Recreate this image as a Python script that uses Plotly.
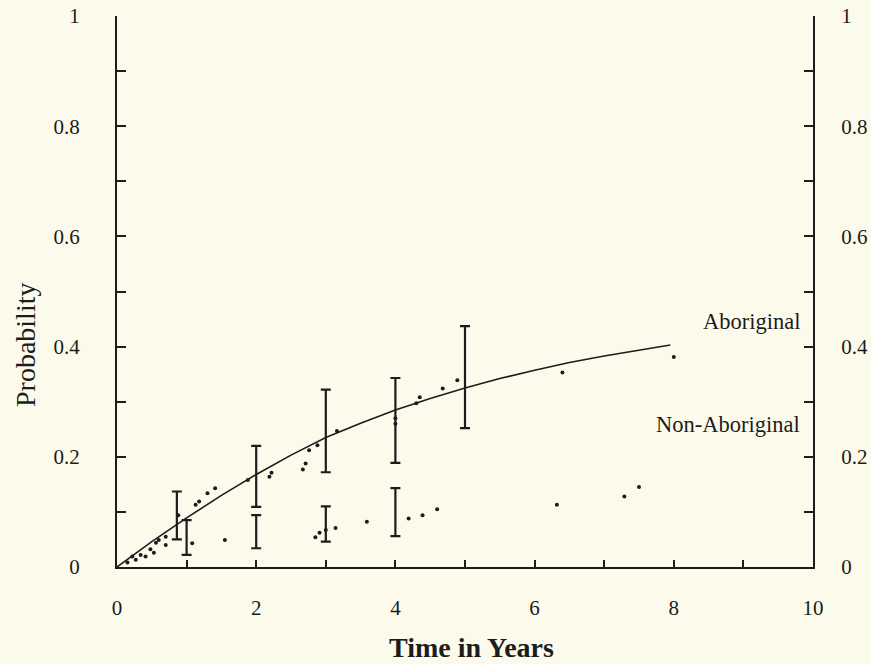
import plotly.graph_objects as go

# Fitted curve (Aboriginal)
curve_x = [0, 0.5, 1, 1.5, 2, 2.5, 3, 3.5, 4, 4.5, 5, 5.5, 6, 6.5, 7, 7.5, 7.95]
curve_y = [0, 0.046, 0.089, 0.13, 0.168, 0.203, 0.235, 0.261, 0.285, 0.306, 0.325, 0.342, 0.357, 0.371, 0.383, 0.393, 0.403]

# Observed points
abo_x = [0.22, 0.34, 0.48, 0.56, 0.60, 0.70, 0.88, 1.13, 1.18, 1.30, 1.41, 1.88, 2.19, 2.22, 2.67, 2.71, 2.76, 2.88, 3.16,
         4.0, 4.0, 4.3, 4.35, 4.68, 4.89, 6.4, 8.0]
abo_y = [0.019, 0.022, 0.032, 0.044, 0.049, 0.055, 0.094, 0.113, 0.119, 0.134, 0.143, 0.158, 0.164, 0.171, 0.177, 0.188,
         0.212, 0.221, 0.247, 0.27, 0.26, 0.297, 0.308, 0.324, 0.339, 0.353, 0.381]
non_x = [0.15, 0.27, 0.41, 0.53, 0.70, 1.08, 1.55, 2.85, 2.91, 3.0, 3.14, 3.59, 4.19, 4.39, 4.6, 6.32, 7.29, 7.5]
non_y = [0.008, 0.013, 0.019, 0.026, 0.040, 0.043, 0.049, 0.054, 0.062, 0.067, 0.071, 0.082, 0.088, 0.094, 0.105,
         0.113, 0.128, 0.145]

# Error bars (low, high)
abo_bar_x = [0.86, 2, 3, 4, 5]
abo_bar_lo = [0.050, 0.109, 0.172, 0.189, 0.252]
abo_bar_hi = [0.137, 0.220, 0.322, 0.343, 0.437]
non_bar_x = [1, 2, 3, 4]
non_bar_lo = [0.022, 0.034, 0.046, 0.056]
non_bar_hi = [0.085, 0.094, 0.110, 0.143]

x_ticks = [0, 2, 4, 6, 8, 10]
y_ticks = [0, 0.2, 0.4, 0.6, 0.8, 1]

INK = "#1c1c1c"
BG = "#fcfbeb"
FONT = "Liberation Serif"

fig = go.Figure()

fig.add_trace(go.Scatter(x=curve_x, y=curve_y, mode="lines",
                         line=dict(color=INK, width=1.6), showlegend=False, hoverinfo="skip"))

def bars(xs, lo, hi):
    c = [(a + b) / 2 for a, b in zip(lo, hi)]
    e = [(b - a) / 2 for a, b in zip(lo, hi)]
    return go.Scatter(x=xs, y=c, mode="markers", marker=dict(size=1, color="rgba(0,0,0,0)"),
                      error_y=dict(type="data", array=e, visible=True, color=INK, thickness=2.2, width=5),
                      showlegend=False, hoverinfo="skip")

fig.add_trace(bars(abo_bar_x, abo_bar_lo, abo_bar_hi))
fig.add_trace(bars(non_bar_x, non_bar_lo, non_bar_hi))

fig.add_trace(go.Scatter(x=abo_x, y=abo_y, mode="markers",
                         marker=dict(size=4, color=INK), showlegend=False))
fig.add_trace(go.Scatter(x=non_x, y=non_y, mode="markers",
                         marker=dict(size=4, color=INK), showlegend=False))

# dummy trace for right axis
fig.add_trace(go.Scatter(x=[0], y=[0], yaxis="y2", mode="markers",
                         marker=dict(size=1, color="rgba(0,0,0,0)"), showlegend=False, hoverinfo="skip"))

fig.update_layout(
    width=871, height=664,
    margin=dict(l=117, r=58, t=16, b=97),
    paper_bgcolor=BG, plot_bgcolor=BG,
    font=dict(family=FONT, size=21, color=INK),
    xaxis=dict(range=[0, 10], showline=True, linecolor=INK, linewidth=2, showgrid=False, zeroline=False,
               automargin=False,
               tickvals=x_ticks, ticktext=[str(v) for v in x_ticks], ticks="inside", ticklen=7, tickwidth=1.5,
               tickcolor=INK, ticklabelstandoff=21,
               minor=dict(dtick=1, tick0=0, ticks="inside", ticklen=7, tickwidth=1.5, tickcolor=INK, showgrid=False)),
    yaxis=dict(range=[0, 1], showline=True, linecolor=INK, linewidth=2, showgrid=False, zeroline=False,
               automargin=False,
               tickvals=y_ticks, ticks="inside", ticklen=9, tickwidth=1.5, tickcolor=INK, ticklabelstandoff=31,
               minor=dict(dtick=0.1, tick0=0, ticks="inside", ticklen=9, tickwidth=1.5, tickcolor=INK, showgrid=False)),
    yaxis2=dict(range=[0, 1], overlaying="y", side="right", showline=True, linecolor=INK, linewidth=2,
                automargin=False,
                showgrid=False, zeroline=False, tickvals=y_ticks, ticks="inside", ticklen=9, tickwidth=1.5,
                tickcolor=INK, ticklabelstandoff=22,
                minor=dict(dtick=0.1, tick0=0, ticks="inside", ticklen=9, tickwidth=1.5, tickcolor=INK, showgrid=False)),
    annotations=[
        dict(text="Probability", xref="paper", yref="paper", x=(25 - 117) / 696, y=(567 - 345) / 551,
             xanchor="center", yanchor="middle",
             textangle=-90, showarrow=False, font=dict(family=FONT, size=28, color=INK)),
        dict(text="<b>Time in Years</b>", xref="paper", yref="paper", x=(471 - 117) / 696, y=(567 - 647) / 551,
             xanchor="center", yanchor="middle",
             showarrow=False, font=dict(family=FONT, size=28, color=INK)),
        dict(text="Aboriginal", x=9.84, y=0.445, xref="x", yref="y", xanchor="right", yanchor="middle",
             showarrow=False, font=dict(family=FONT, size=22.5, color=INK)),
        dict(text="Non-Aboriginal", x=9.84, y=0.258, xref="x", yref="y", xanchor="right", yanchor="middle",
             showarrow=False, font=dict(family=FONT, size=22.5, color=INK)),
    ],
)

fig.write_html("out.html", config={"displayModeBar": False},
               post_script="document.body.style.margin='0';")
